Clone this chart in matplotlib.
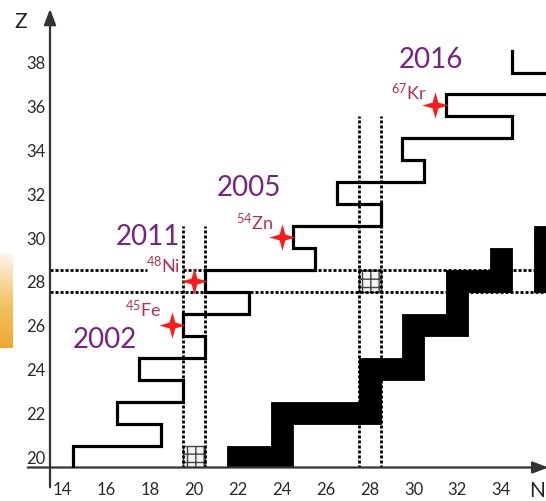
import numpy as np
import matplotlib
matplotlib.use('Agg')
import matplotlib.pyplot as plt
from matplotlib.path import Path
from matplotlib.colors import LinearSegmentedColormap

plt.rcParams['font.family'] = ['Lato', 'DejaVu Sans']
plt.rcParams['mathtext.default'] = 'regular'
plt.rcParams['hatch.linewidth'] = 1.0

# proton drip line: lightest bound N for each Z (outlined staircase)
drip_Z = [20, 21, 22, 23, 24, 25, 26, 27, 28, 29, 30, 31, 32, 33, 34, 35, 36]
drip_N = [15, 19, 17, 20, 18, 21, 20, 23, 21, 26, 25, 29, 27, 31, 30, 35, 32]
# upper piece near Kr/Sr
drip2_Z = [38]
drip2_N = [35]

# stable nuclei (black blocks): row Z, from N_lo to N_hi
stable_Z = [20, 21, 22, 23, 24, 25, 26, 27, 28, 28, 29, 29, 30]
stable_Nlo = [22, 24, 24, 28, 28, 30, 30, 32, 32, 36, 34, 36, 36]
stable_Nhi = [24, 24, 28, 28, 30, 30, 32, 32, 34, 36, 34, 36, 36]

# doubly magic cells
magic = [20, 28]
magic_top = [30.5, 35.5]   # how far the dotted N-lines go up

# discovered 2p emitters
iso_names = ['$^{45}$Fe', '$^{48}$Ni', '$^{54}$Zn', '$^{67}$Kr']
iso_N = [19, 20, 24, 31]
iso_Z = [26, 28, 30, 36]
years = ['2002', '2011', '2005', '2016']
label_xy = [(18.5, 26.4), (19.36, 28.41), (23.6, 30.37), (30.62, 36.29)]
year_xy = [(15.94, 24.99), (17.9, 29.69), (22.51, 31.92), (30.82, 37.75)]

fig = plt.figure(figsize=(5.46, 5.02), dpi=100)
ax = fig.add_axes([50 / 546, 33.5 / 502, 496 / 546, 468.5 / 502])
x0, x1 = 13.44, 36.04
ax.set_xlim(x0, x1)
ax.set_ylim(19.5, 40.85)
for s in ax.spines.values():
    s.set_visible(False)

# dotted magic lines
dot = dict(color='black', lw=2.0, linestyle=(0, (1.1, 0.7)), zorder=2)
for m, top in zip(magic, magic_top):
    ax.plot([m - 0.5, m - 0.5], [19.5, top], **dot)
    ax.plot([m + 0.5, m + 0.5], [19.5, top], **dot)
ax.plot([x0, x1], [27.5, 27.5], **dot)
ax.plot([x0, 17.85], [28.5, 28.5], **dot)
ax.plot([19.5, x1], [28.5, 28.5], **dot)

# brick cells
ax.bar(magic, 1, bottom=np.array(magic) - 0.5, width=1, color='#f4f4f4',
       edgecolor='#444444', hatch='++', lw=1.0, zorder=1)

# stable valley
lo = np.array(stable_Nlo)
hi = np.array(stable_Nhi)
ax.barh(stable_Z, hi - lo + 1, left=lo - 0.5, height=1, color='black',
        edgecolor='black', lw=0.6, zorder=3)

# drip line staircase
dz = np.array(drip_Z)
dn = np.array(drip_N) - 0.5
xs = np.repeat(dn, 2)
ys = np.ravel(np.column_stack([dz - 0.5, dz + 0.5]))
xs = np.append(xs, x1 + 1)
ys = np.append(ys, dz[-1] + 0.5)
ax.plot(xs, ys, color='black', lw=2.3, solid_joinstyle='miter', zorder=4)
for z, n in zip(drip2_Z, drip2_N):
    ax.plot([n - 0.5, n - 0.5, x1 + 1], [z + 0.5, z - 0.5, z - 0.5],
            color='black', lw=2.3, solid_joinstyle='miter', zorder=4)

# four-point star marker
r = 0.22
star = Path([(0, 1), (r, r), (1, 0), (r, -r), (0, -1), (-r, -r), (-1, 0), (-r, r), (0, 1)],
            [Path.MOVETO] + [Path.LINETO] * 7 + [Path.CLOSEPOLY])
ax.plot(iso_N, iso_Z, ls='none', marker=star, ms=19, color='#ff1a1a',
        markeredgewidth=0, zorder=6)

for name, (lx, ly) in zip(iso_names, label_xy):
    ax.text(lx, ly, name, color='#b5304f', fontsize=13, ha='right', va='baseline', zorder=7)
for yr, (yx, yy) in zip(years, year_xy):
    ax.text(yx, yy, yr, color='#76247f', fontsize=20, ha='center', va='baseline', zorder=7)

# axes with arrows
ap = dict(arrowstyle='-|>,head_length=0.95,head_width=0.36', color='#333333', lw=1.6,
          mutation_scale=10, shrinkA=0, shrinkB=0)
ax.annotate('', xy=(x0, 40.4), xytext=(x0, 18.6), arrowprops=ap, annotation_clip=False)
ax.annotate('', xy=(36.15, 19.5), xytext=(12.43, 19.5), arrowprops=ap, annotation_clip=False)

ax.set_yticks(range(20, 39, 2))
ax.set_xticks(range(14, 35, 2))
ax.tick_params(axis='y', length=0, pad=3, labelsize=12, labelcolor='#2a2a2a')
ax.tick_params(axis='x', length=0, pad=9.5, labelsize=12, labelcolor='#2a2a2a')

fig.text(21 / 546, 1 - 22 / 502, 'Z', fontsize=15, ha='center', va='center', color='#222222')
fig.text(545 / 546, 1 - 491 / 502, 'N', fontsize=15, ha='right', va='center', color='#222222')

# orange gradient strip on the left edge
gax = fig.add_axes([0, (502 - 349) / 502, 13 / 546, 94 / 502])
cmap = LinearSegmentedColormap.from_list('g', ['#fdf6ea', '#f3c46a', '#eea830'])
gax.imshow(np.linspace(0, 1, 100).reshape(-1, 1), aspect='auto', cmap=cmap)
gax.axis('off')

fig.savefig('out.png', dpi=100)
